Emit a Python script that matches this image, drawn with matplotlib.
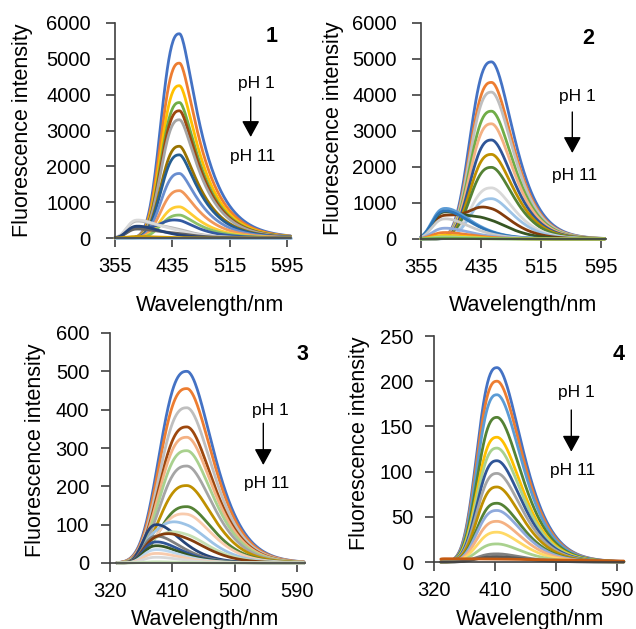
import numpy as np
import matplotlib
matplotlib.use("Agg")
import matplotlib.pyplot as plt

plt.rcParams['font.family'] = ['Liberation Sans', 'DejaVu Sans']

W, H = 636, 629

# ---------------- data ----------------
# Each spectrum = acid-band height * acid band + base-band height * base band
# Panel 1
acid1 = [5700, 4880, 4250, 3780, 3550, 3300, 2560, 2320, 1800, 1320, 870, 640, 420, 120, 80, 60, 0, 0, 0]
base1 = [0, 0, 0, 0, 0, 0, 0, 0, 0, 0, 0, 0, 280, 470, 500, 250, 330, 40, 0]
colors1 = ['#4472C4', '#ED7D31', '#FFC000', '#70AD47', '#9E480E', '#A5A5A5', '#997300', '#255E91',
           '#698ED0', '#F1975A', '#FFCD33', '#8CC168', '#335AA1', '#B7B7B7', '#D9D9D9', '#636363',
           '#264478', '#CC9A00', '#9DC3E6']
# Panel 2
acid2 = [4920, 4350, 4080, 3550, 3200, 2750, 2350, 1990, 1420, 1120, 680, 330, 0, 0, 0, 0, 0, 0, 0, 0]
base2 = [0, 0, 0, 0, 0, 0, 0, 0, 0, 0, 650, 750, 850, 780, 560, 300, 180, 100, 60, 20]
colors2 = ['#4472C4', '#ED7D31', '#BFBFBF', '#70AD47', '#F4B183', '#2F5597', '#BF9000', '#548235',
           '#D9D9D9', '#9DC3E6', '#843C0C', '#375623', '#5B9BD5', '#2E75B6', '#C9C9C9', '#8FAADC',
           '#ED7D31', '#FFC000', '#A9D18E', '#70AD47']
# Panel 3
acid3 = [500, 455, 405, 355, 328, 293, 253, 202, 147, 120, 75, 0, 55, 0, 40, 0, 0, 0, 0, 0, 0]
base3 = [0, 0, 0, 0, 0, 0, 0, 0, 0, 15, 50, 100, 40, 70, 50, 55, 45, 35, 25, 15, 3]
colors3 = ['#4472C4', '#ED7D31', '#BFBFBF', '#9E480E', '#F4B183', '#A9D18E', '#A5A5A5', '#BF9000',
           '#548235', '#F8CBAD', '#9DC3E6', '#264478', '#C5E0B4', '#7F7F7F', '#843C0C', '#2F5597',
           '#375623', '#BDD7EE', '#F8CBAD', '#D9D9D9', '#C5E0B4']
# Panel 4
acid4 = [215, 200, 185, 160, 138, 126, 112, 98, 83, 65, 57, 45, 33, 20, 9, 6, 0]
base4 = [0, 0, 0, 0, 0, 0, 0, 0, 0, 0, 0, 0, 0, 0, 0, 0, 3.6]
colors4 = ['#4472C4', '#ED7D31', '#5B9BD5', '#548235', '#FFC000', '#A9D18E', '#2F5597', '#A5A5A5',
           '#BF9000', '#548235', '#8FAADC', '#F4B183', '#FFD966', '#A9D18E', '#7F7F7F', '#595959',
           '#C55A11']

# band parameters: (center, left half-width, right half-width, tail factor)
acid_band = {1: (445, 28, 32, 2.0), 2: (449, 31, 35, 0.6), 3: (431, 43, 45, 0.5), 4: (413, 32, 44, 0.5)}
base_band = {1: (387, 17, 38, 0.5), 2: (388, 20, 40, 0.5), 3: (388, 22, 42, 0.5), 4: (335, 10, 200, 0.0)}
wl_start = {1: 355, 2: 355, 3: 330, 4: 330}
xticks = {1: [355, 435, 515, 595], 2: [355, 435, 515, 595], 3: [320, 410, 500, 590], 4: [320, 410, 500, 590]}
ymax = {1: 6000, 2: 6000, 3: 600, 4: 250}
ystep = {1: 1000, 2: 1000, 3: 100, 4: 50}


def band(wl, c, hl, hr, tail):
    d = wl - c
    left = np.exp(-np.log(2) * np.abs(d / hl) ** 2.6)
    r = np.abs(d / hr)
    right = np.exp(-np.log(2) * r ** 2 * (1 + tail) / (1 + tail * r))
    return np.where(d < 0, left, right)


# axes boxes in pixels: (x of first tick, x of last tick, first tick value, last tick value, y top, y bottom)
boxes = {1: (115, 287, 355, 595, 23, 238),
         2: (421, 601, 355, 595, 23, 239),
         3: (110, 297, 320, 590, 333, 563),
         4: (434, 617, 320, 590, 336, 562)}
ypad = {1: 11, 2: 11, 3: 8.5, 4: 8.5}
data = {1: (acid1, base1, colors1), 2: (acid2, base2, colors2),
        3: (acid3, base3, colors3), 4: (acid4, base4, colors4)}

fig = plt.figure(figsize=(W / 100, H / 100), dpi=100)
XMAX = 601
for p in (1, 2, 3, 4):
    x0, x1, v0, v1, yt, yb = boxes[p]
    k = (x1 - x0) / (v1 - v0)
    right_px = x0 + (XMAX - v0) * k
    ax = fig.add_axes([x0 / W, 1 - yb / H, (right_px - x0) / W, (yb - yt) / H])
    wl = np.arange(wl_start[p], XMAX, 1.0)
    acid, base, cols = data[p]
    ga = band(wl, *acid_band[p])
    gb = band(wl, *base_band[p])
    for a, b, c in zip(acid, base, cols):
        ax.plot(wl, a * ga + b * gb, color=c, lw=2.0, solid_capstyle='round', clip_on=False)
    ax.set_xlim(v0, XMAX)
    ax.set_ylim(0, ymax[p])
    ax.set_xticks(xticks[p])
    ax.set_yticks(np.arange(0, ymax[p] + 1, ystep[p]))
    for s in ('top', 'right'):
        ax.spines[s].set_visible(False)
    for s in ('left', 'bottom'):
        ax.spines[s].set_color('#404040')
        ax.spines[s].set_linewidth(1.2)
    ax.tick_params(direction='out', length=6.5, width=1.2, color='#404040', labelsize=14.5)
    ax.tick_params(axis='x', pad=7)
    ax.tick_params(axis='y', pad=ypad[p])
    ax.patch.set_alpha(0)

# axis labels
lab = dict(fontsize=15.5, ha='center', va='center')
for (x, y) in [(210, 305), (523, 305), (205, 620), (530, 620)]:
    fig.text(x / W, 1 - y / H, 'Wavelength/nm', **lab)
for (x, y) in [(23, 130), (333, 128), (36, 450), (360, 443)]:
    fig.text(x / W, 1 - y / H, 'Fluorescence intensity', rotation=90, **lab)

# panel numbers and pH annotations
nums = {1: (271.7, 36.7), 2: (588, 38.3), 3: (302.7, 355), 4: (618.7, 355)}
ph1 = {1: (256.7, 83.3), 2: (577.3, 96.7), 3: (270.7, 410), 4: (576.3, 392.7)}
ph11 = {1: (253, 156), 2: (574.7, 176), 3: (266.7, 483.3), 4: (573, 470)}
arrows = {1: (250.7, 97, 137), 2: (572.3, 112, 153), 3: (263.3, 423.3, 465), 4: (571.3, 410, 451.7)}
for p in (1, 2, 3, 4):
    x, y = nums[p]
    fig.text(x / W, 1 - y / H, str(p), fontsize=15.5, fontweight='bold', ha='center', va='center')
    x, y = ph1[p]
    fig.text(x / W, 1 - y / H, 'pH 1', fontsize=12.5, ha='center', va='center')
    x, y = ph11[p]
    fig.text(x / W, 1 - y / H, 'pH 11', fontsize=12.5, ha='center', va='center')
    x, ya, yb2 = arrows[p]
    fig.add_artist(matplotlib.patches.FancyArrowPatch(
        (x / W, 1 - ya / H), (x / W, 1 - yb2 / H), transform=fig.transFigure,
        arrowstyle='-|>,head_length=0.55,head_width=0.3', mutation_scale=18,
        color='black', lw=1.0, shrinkA=0, shrinkB=0))

fig.savefig('out.png', dpi=100)
